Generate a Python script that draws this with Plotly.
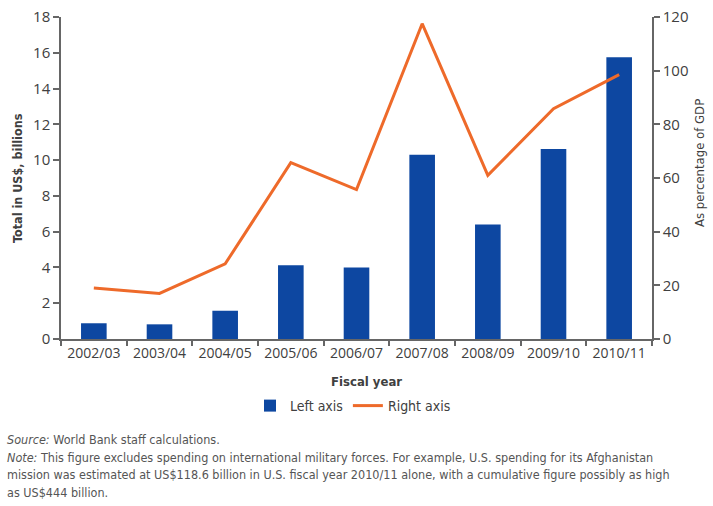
import plotly.graph_objects as go

years = ["2002/03", "2003/04", "2004/05", "2005/06", "2006/07",
         "2007/08", "2008/09", "2009/10", "2010/11"]
total_billions = [0.88, 0.82, 1.58, 4.12, 3.99, 10.3, 6.4, 10.62, 15.75]
pct_gdp = [19.0, 17.0, 28.0, 65.7, 55.7, 117.5, 61.0, 85.8, 98.5]
left_ticks = [0, 2, 4, 6, 8, 10, 12, 14, 16, 18]
right_ticks = [0, 20, 40, 60, 80, 100, 120]

BLUE = "#0D47A1"
ORANGE = "#EE6A2A"
AXIS = "#666666"
TXT = "#404040"
FONT = "Open Sans, Liberation Sans, sans-serif"
NARROW = "DejaVu Sans Condensed, Liberation Sans Narrow, Roboto, sans-serif"

fig = go.Figure()
fig.add_trace(go.Bar(x=years, y=total_billions, name="Left axis",
                     marker=dict(color=BLUE, line=dict(width=0)), width=0.39,
                     yaxis="y"))
fig.add_trace(go.Scatter(x=years, y=pct_gdp, name="Right axis", mode="lines",
                         line=dict(color=ORANGE, width=3), yaxis="y2"))

W, H = 713, 506
L, R, T, B = 61, 61, 17, 167
ph = H - T - B

def py(ypx):
    return (H - B - ypx) / ph

def px(xpx):
    return (xpx - L) / (W - L - R)

fig.update_layout(
    width=W, height=H,
    margin=dict(l=L, r=R, t=T, b=B, autoexpand=False),
    paper_bgcolor="white", plot_bgcolor="white",
    font=dict(family=FONT, size=14, color=TXT),
    showlegend=True,
    legend=dict(orientation="h", x=px(353), xanchor="center", y=py(406), yanchor="middle",
                font=dict(family=NARROW, size=14, color=TXT),
                itemwidth=30, traceorder="normal", bgcolor="rgba(0,0,0,0)"),
    xaxis=dict(type="category", showgrid=False, showline=True, linecolor=AXIS,
               linewidth=1.5, ticks="outside", tickson="boundaries", ticklen=5,
               tickcolor=AXIS, tickwidth=1.5, tickfont=dict(size=14, color=TXT),
               range=[-0.5, len(years) - 0.5], automargin=False),
    yaxis=dict(range=[0, 18], tickvals=left_ticks, showgrid=False, showline=True,
               linecolor=AXIS, linewidth=1.5, ticks="outside", ticklen=6,
               tickcolor=AXIS, tickwidth=1.5, zeroline=False, automargin=False,
               tickfont=dict(size=15, color=TXT)),
    yaxis2=dict(range=[0, 120], tickvals=right_ticks, overlaying="y", side="right",
                showgrid=False, showline=True, linecolor=AXIS, linewidth=1.5,
                ticks="outside", ticklen=6, tickcolor=AXIS, tickwidth=1.5,
                zeroline=False, automargin=False, tickfont=dict(size=15, color=TXT)),
)

ann = [
    dict(text="<b>Fiscal year</b>", x=px(366), y=py(381), xref="paper", yref="paper",
         showarrow=False, font=dict(size=13, family=NARROW, color=TXT),
         xanchor="center", yanchor="middle"),
    dict(text="<b>Total in US$, billions</b>", x=px(17), y=py(178), xref="paper", yref="paper",
         showarrow=False, textangle=-90, font=dict(size=12.5, family=NARROW, color=TXT),
         xanchor="center", yanchor="middle"),
    dict(text="As percentage of GDP", x=px(699), y=py(163), xref="paper", yref="paper",
         showarrow=False, textangle=-90, font=dict(size=13, family=NARROW, color=TXT),
         xanchor="center", yanchor="middle"),
]

foot = [
    (439, "<i>Source:</i> World Bank staff calculations."),
    (457, "<i>Note:</i> This figure excludes spending on international military forces. For example, U.S. spending for its Afghanistan"),
    (475, "mission was estimated at US$118.6 billion in U.S. fiscal year 2010/11 alone, with a cumulative figure possibly as high"),
    (492, "as US$444 billion."),
]
for ypx, t in foot:
    ann.append(dict(text=t, x=px(5), y=py(ypx), xref="paper", yref="paper",
                    showarrow=False, xanchor="left", yanchor="middle", align="left",
                    font=dict(size=12.5, family=NARROW, color="#555555")))

fig.update_layout(annotations=ann)
fig.write_html("out.html", config={"displayModeBar": False},
               post_script="document.body.style.margin='0';document.body.style.overflow='hidden';")
